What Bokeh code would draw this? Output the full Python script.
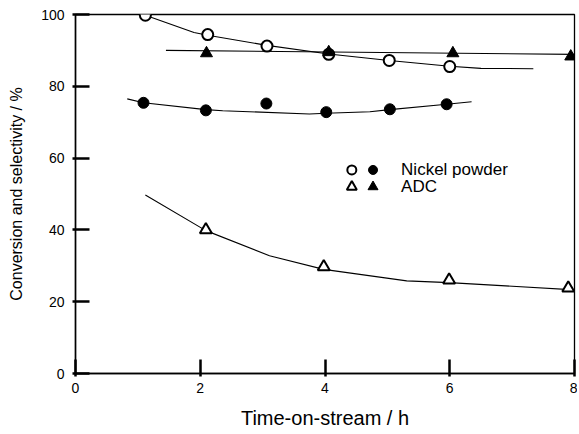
from bokeh.plotting import figure
from bokeh.models import Range1d, FixedTicker
from bokeh.core.properties import value
from bokeh.embed import file_html
from bokeh.resources import INLINE

FONT = "Liberation Sans"

# Nickel powder: selectivity (open circles) and conversion (filled circles)
ni_sel_t = [1.12, 2.12, 3.07, 4.06, 5.03, 6.00]
ni_sel_v = [99.8, 94.4, 91.2, 88.9, 87.2, 85.5]
ni_sel_curve_t = [1.12, 1.90, 2.12, 3.07, 4.06, 5.03, 6.00, 6.50, 7.34]
ni_sel_curve_v = [99.8, 95.0, 94.2, 91.4, 89.0, 87.2, 85.6, 85.0, 84.9]

ni_conv_t = [1.09, 2.09, 3.06, 4.02, 5.04, 5.95]
ni_conv_v = [75.4, 73.3, 75.2, 72.8, 73.6, 75.0]
ni_conv_curve_t = [0.83, 1.09, 2.09, 2.36, 3.75, 4.02, 4.72, 5.04, 5.95, 6.35]
ni_conv_curve_v = [76.5, 75.4, 73.5, 73.2, 72.3, 72.5, 72.9, 73.5, 75.0, 75.7]

# ADC: selectivity (filled triangles) and conversion (open triangles)
adc_sel_t = [2.10, 4.06, 6.05, 7.94]
adc_sel_v = [89.2, 89.5, 89.2, 88.3]
adc_sel_curve_t = [1.45, 8.0]
adc_sel_curve_v = [90.0, 88.9]

adc_conv_t = [2.09, 3.98, 5.99, 7.90]
adc_conv_v = [40.0, 29.7, 26.0, 23.8]
adc_conv_curve_t = [1.12, 2.09, 3.11, 3.98, 5.31, 5.99, 8.0]
adc_conv_curve_v = [49.7, 39.8, 32.8, 29.0, 25.8, 25.3, 23.3]

x_ticks = [0, 2, 4, 6, 8]
y_ticks = [0, 20, 40, 60, 80, 100]

legend_labels = ["Nickel powder", "ADC"]

X_MIN, X_MAX = 0, 8
Y_MIN, Y_MAX = 0, 100

p = figure(width=577, height=431, output_backend="svg", toolbar_location=None,
           x_range=Range1d(X_MIN, X_MAX), y_range=Range1d(Y_MIN, Y_MAX),
           min_border_left=75, min_border_right=3, min_border_top=14, min_border_bottom=56)
p.grid.visible = False
p.outline_line_color = "black"
p.outline_line_width = 1.3

for ax in (p.xaxis[0], p.yaxis[0]):
    ax.axis_line_color = "black"
    ax.axis_line_width = 1.5
    ax.major_tick_in = 14
    ax.major_tick_out = 3
    ax.major_tick_line_color = "black"
    ax.major_tick_line_width = 2.5
    ax.minor_tick_line_color = None
    ax.major_label_text_font = FONT
    ax.major_label_text_font_size = "14px"
    ax.major_label_text_color = "black"
    ax.axis_label_text_font = FONT
    ax.axis_label_text_font_style = "normal"
    ax.axis_label_text_color = "black"

p.xaxis.ticker = FixedTicker(ticks=x_ticks)
p.yaxis.ticker = FixedTicker(ticks=y_ticks)
p.xaxis.axis_label = "Time-on-stream / h"
p.xaxis.axis_label_text_font_size = "20px"
p.xaxis.major_label_standoff = 6
p.xaxis.axis_label_standoff = 11
p.yaxis.axis_label = "Conversion and selectivity / %"
p.yaxis.axis_label_text_font_size = "16px"
p.yaxis.major_label_standoff = 8
p.yaxis.axis_label_standoff = 13

# fitted curves
for ct, cv in [(ni_sel_curve_t, ni_sel_curve_v), (ni_conv_curve_t, ni_conv_curve_v),
               (adc_sel_curve_t, adc_sel_curve_v), (adc_conv_curve_t, adc_conv_curve_v)]:
    p.line(ct, cv, line_color="black", line_width=1.1)

# markers
p.scatter(ni_sel_t, ni_sel_v, marker="circle", size=11, fill_color="white",
          line_color="black", line_width=2)
p.scatter(ni_conv_t, ni_conv_v, marker="circle", size=11, fill_color="black",
          line_color="black")
p.scatter(adc_sel_t, adc_sel_v, marker="triangle", size=12, fill_color="black",
          line_color="black")
p.scatter(adc_conv_t, adc_conv_v, marker="triangle", size=12, fill_color="white",
          line_color="black", line_width=2)

# hand-made legend (two markers per entry)
LEG_X_OPEN, LEG_X_FILLED, LEG_X_TEXT = 4.43, 4.77, 5.22
LEG_Y = [56.7, 52.0]
p.scatter([LEG_X_OPEN], [LEG_Y[0]], marker="circle", size=9, fill_color="white",
          line_color="black", line_width=2)
p.scatter([LEG_X_FILLED], [LEG_Y[0]], marker="circle", size=9, fill_color="black",
          line_color="black")
p.scatter([LEG_X_OPEN], [LEG_Y[1]], marker="triangle", size=10, fill_color="white",
          line_color="black", line_width=2)
p.scatter([LEG_X_FILLED], [LEG_Y[1]], marker="triangle", size=10, fill_color="black",
          line_color="black")
p.text([LEG_X_TEXT, LEG_X_TEXT], LEG_Y, text=legend_labels, text_font=value(FONT),
       text_font_size="17px", text_baseline="middle", text_align="left",
       text_color="black")

open("out.html", "w").write(file_html(p, INLINE))
